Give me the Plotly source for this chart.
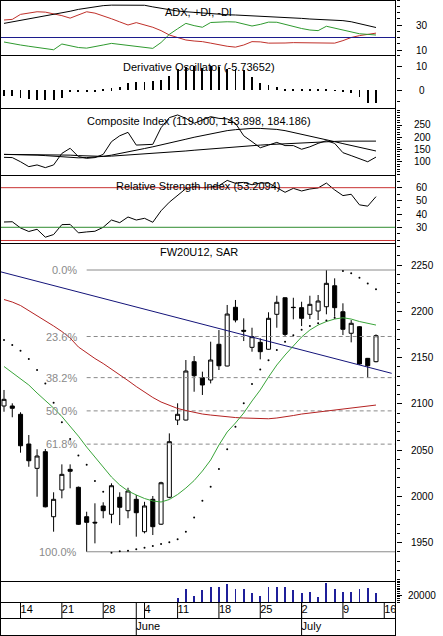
import numpy as np
import pandas as pd
import plotly.graph_objects as go

# ---------------- calendar ----------------
HOLIDAYS = ["2012-06-07"]
calendar = [d.strftime("%Y-%m-%d") for d in pd.bdate_range("2012-05-10", "2012-07-20")
            if d.strftime("%Y-%m-%d") not in HOLIDAYS]
dates = [d for d in calendar if d <= "2012-07-13"]
pos = {d: i for i, d in enumerate(calendar)}
n = len(dates)
xs = list(range(n))

# ---------------- price data (FW20U12) ----------------
opens = [2097.6, 2097.6, 2088.6, 2056.5, 2030.2, 2048.2, 1977.9, 2006.8, 2029.1, 2009.7,
         1977.9, 1971.9, 1989.5, 1980.5, 1998.9, 1984.4, 1996.7, 1961.7, 1996.7, 1969.8,
         1998.9, 2082.4, 2082.4, 2145.5, 2128.2, 2125.7, 2164.3, 2140.8, 2204.3, 2179.4,
         2161.0, 2166.4, 2158.9, 2196.7, 2214.6, 2204.3, 2203.9, 2196.7, 2200.3, 2204.9,
         2227.6, 2199.5, 2176.2, 2183.3, 2149.1, 2145.5]
highs = [2114.9, 2100.5, 2090.8, 2066.2, 2050.8, 2051.1, 2004.3, 2034.5, 2034.5, 2010.5,
         1983.3, 1992.4, 1993.5, 2014.0, 2004.3, 2009.2, 2001.4, 1994.0, 2000.3, 2015.7,
         2068.0, 2100.5, 2147.3, 2151.6, 2134.7, 2167.1, 2179.7, 2206.8, 2212.2, 2192.4,
         2182.2, 2170.8, 2198.9, 2216.8, 2215.0, 2214.6, 2210.3, 2216.8, 2217.6, 2244.6,
         2235.6, 2208.6, 2190.5, 2184.0, 2149.5, 2175.0]
lows = [2091.4, 2085.4, 2047.1, 2031.9, 1999.5, 1988.0, 1961.7, 1997.8, 2008.6, 1969.0,
        1940.0, 1949.1, 1976.2, 1970.8, 1968.9, 1976.2, 1956.3, 1959.9, 1958.1, 1969.0,
        1997.8, 2077.0, 2082.0, 2113.0, 2109.5, 2122.0, 2136.5, 2140.5, 2188.0, 2167.8,
        2156.3, 2148.0, 2158.5, 2182.2, 2172.5, 2191.3, 2184.0, 2191.6, 2190.5, 2196.7,
        2194.1, 2174.3, 2166.4, 2142.0, 2128.2, 2144.8]
closes = [2104.8, 2095.1, 2054.6, 2038.4, 2043.5, 1988.6, 1996.7, 2023.7, 2027.0, 1969.7,
          1971.8, 1971.2, 1984.4, 2011.4, 1988.1, 2005.7, 1982.2, 1989.5, 1967.1, 2014.6,
          2059.0, 2088.6, 2135.4, 2130.3, 2120.3, 2147.3, 2141.1, 2197.0, 2190.5, 2178.5,
          2172.5, 2156.3, 2192.4, 2209.7, 2175.0, 2204.0, 2192.4, 2207.5, 2211.1, 2230.2,
          2203.9, 2180.5, 2187.0, 2143.0, 2141.1, 2173.6]
sar = [2168.9, 2163.5, 2157.4, 2148.4, 2136.5, 2122.0, 2101.0, 2080.0, 2062.0, 2044.0,
       2034.0, 2016.5, 2005.0, 1939.0, 1940.5, 1941.1, 1942.6, 1944.4, 1946.2, 1948.4,
       1950.2, 1953.5, 1961.7, 1977.0, 1995.2, 2010.3, 2029.5, 2050.8, 2075.2, 2100.5,
       2121.4, 2137.0, 2147.0, 2158.0, 2167.0, 2174.0, 2180.0, 2184.0, 2187.0, 2190.0,
       2193.0, 2243.5, 2241.0, 2236.3, 2230.0, 2223.7]
ma_short = [2140.3, 2133.8, 2126.8, 2120.3, 2111.6, 2104.0, 2095.4, 2086.2, 2075.9, 2065.0,
            2053.2, 2042.4, 2031.6, 2020.8, 2012.2, 2005.7, 2001.4, 1997.6, 1994.9, 1993.8,
            1996.5, 2001.9, 2008.9, 2017.0, 2027.3, 2039.2, 2055.4, 2069.5, 2079.2, 2090.0,
            2103.0, 2114.9, 2128.9, 2141.9, 2152.7, 2162.4, 2172.2, 2179.7, 2185.1, 2188.9,
            2191.6, 2193.0, 2191.6, 2188.9, 2186.8, 2185.1]
ma_long = [2212.7, 2210.0, 2206.2, 2200.8, 2195.4, 2190.0, 2184.1, 2178.1, 2171.1, 2161.4,
           2154.9, 2148.9, 2143.5, 2137.6, 2131.1, 2125.1, 2118.6, 2112.7, 2106.8, 2101.9,
           2098.1, 2094.9, 2092.7, 2090.5, 2088.9, 2087.8, 2086.8, 2085.7, 2085.1, 2084.6,
           2084.1, 2083.8, 2083.8, 2084.6, 2085.7, 2087.3, 2088.9, 2090.0, 2091.1, 2092.2,
           2093.2, 2094.3, 2095.4, 2096.5, 2097.6, 2098.6]
# trendline anchors (value at first and last session)
trend_dates = ["2012-05-10", "2012-07-13"]
trend_values = [2241.7, 2137.3]
fib_levels = [0.0, 23.6, 38.2, 50.0, 61.8, 100.0]

volume = [None] * 21 + [10600, 36300, 18000, 34300, 42000, 42000, 51400, 36300, 36300, 26600,
                        18000, 42000, 42000, 42000, 34300, 26600, 29400, 13400, 53400, 36300,
                        29400, 29400, 36300, 39100, 26600]

# ---------------- indicators ----------------
adx = [31.3, 32.5, 33.8, 35.0, 36.0, 37.2, 38.2, 39.6, 41.0, 42.5, 43.7, 44.8, 45.5, 45.9, 46.0,
       46.0, 46.0, 45.8, 44.5, 43.2, 42.0, 41.2, 40.6, 40.0, 39.5, 39.0, 38.5, 38.2, 38.0, 37.7,
       37.5, 37.3, 37.1, 36.7, 36.2, 35.7, 35.3, 34.8, 34.5, 34.2, 33.9, 33.5, 32.6, 31.0, 29.5, 28.0]
plus_di = [16.4, 15.0, 14.0, 13.0, 12.0, 11.0, 10.2, 14.8, 13.5, 12.0, 11.5, 12.5, 14.0, 15.3, 14.5,
           14.0, 13.5, 12.5, 11.3, 16.0, 22.5, 27.0, 31.3, 29.5, 28.2, 32.0, 32.6, 32.6, 32.4, 31.0,
           29.2, 30.5, 32.3, 32.2, 30.5, 28.5, 27.2, 26.0, 25.5, 29.0, 27.5, 25.8, 24.2, 23.0, 22.5, 22.0]
minus_di = [34.0, 34.5, 38.5, 39.8, 40.6, 40.3, 39.2, 37.5, 35.5, 38.0, 40.6, 39.5, 37.5, 35.0, 32.5,
            30.0, 31.9, 30.3, 28.2, 25.5, 22.0, 20.0, 18.0, 17.2, 16.7, 15.5, 14.2, 13.0, 12.3, 14.0,
            16.7, 16.5, 15.5, 15.3, 15.6, 15.9, 15.8, 15.5, 15.3, 15.3, 15.5, 17.5, 20.0, 21.5, 22.8, 23.5]
adx_ref = 20

deriv_osc = [-2.4, -2.4, -3.5, -4.0, -4.3, -4.3, -4.3, -3.5, -1.0, -1.0, -0.8, -0.8, 0.3, 0.8, 1.5,
             3.0, 3.5, 3.5, 4.0, 4.3, 6.0, 9.0, 10.0, 10.5, 9.5, 10.5, 10.0, 9.0, 9.0, 8.5,
             5.5, 3.0, 2.0, 1.2, 0.6, 0.2, 0.5, 0.5, 0.5, 0.1, -0.2, -1.0, -1.2, -3.0, -5.5, -5.73652]

composite = [118, 117, 100, 80, 87, 76, 87, 134, 155, 121, 114, 117, 130, 182, 206, 220, 168, 168,
             171, 239, 280, 291, 277, 257, 271, 284, 277, 275, 257, 206, 182, 157, 168, 179, 166, 166,
             151, 161, 175, 186, 175, 137, 125, 114, 100, 119.000]
composite_ma1 = [130, 130, 129, 128, 127, 125, 122, 119, 117, 116, 117, 119, 122, 127, 133, 140, 147,
                 154, 161, 168, 176, 184, 192, 200, 207, 214, 221, 227, 231, 234, 236, 236, 235, 232,
                 227, 220, 212, 204, 196, 189, 182, 174, 166, 158, 151, 143.898]
composite_ma2 = [130, 130, 130, 129, 129, 128, 128, 128, 127, 125, 123, 122, 122, 123, 125, 127, 129,
                 131, 133, 136, 139, 141, 144, 147, 150, 153, 156, 159, 162, 164, 166, 168, 170, 172,
                 174, 176, 178, 179, 181, 182, 183, 184, 184.5, 184.5, 184.3, 184.186]

rsi = [34.0, 34.2, 29.5, 26.8, 28.5, 22.5, 24.5, 32.0, 32.2, 25.8, 26.5, 27.0, 30.0, 35.5, 33.5,
       37.8, 35.5, 36.8, 33.8, 42.5, 49.0, 54.5, 59.3, 60.8, 60.0, 60.5, 61.5, 65.5, 63.3, 64.0,
       62.2, 63.5, 63.5, 60.0, 56.5, 59.5, 57.5, 59.0, 59.8, 63.5, 58.3, 54.0, 55.0, 47.0, 46.0, 53.2094]
rsi_levels = [60, 30, 20]

# axis tick labels
adx_ticks = [10, 30]
do_ticks = [0, 10]
ci_ticks = [100, 150, 200, 250]
rsi_ticks = [30, 40, 50, 60]
price_ticks = [1950, 2000, 2050, 2100, 2150, 2200, 2250]
vol_ticks = [20000]

week_dates = ["2012-05-14", "2012-05-21", "2012-05-28", "2012-06-04", "2012-06-11",
              "2012-06-18", "2012-06-25", "2012-07-02", "2012-07-09", "2012-07-16"]
month_dates = ["2012-06-01", "2012-07-02"]
month_names = ["June", "July"]

# ---------------- layout helpers ----------------
W, H = 443, 636
PR = 396                      # right edge of plotting area (px)
FONT = "Liberation Sans, Arial, sans-serif"
X_RANGE = [-0.484, n - 1 + 2.42]


def py(p):
    return 1 - p / H


panels = {  # name: (top px, bottom px, range)
    "y": (0, 55, [6, 50]),
    "y2": (55, 108, [-7.7, 15]),
    "y3": (108, 175, [45.9, 319.4]),
    "y4": (175, 243, [18.1, 69.6]),
    "y5": (243, 581, [1908.4, 2273.8]),
    "y6": (581, 602, [0, 60000]),
    "y7": (602, 635, [0, 1]),
}
tickinfo = {
    "y": (adx_ticks, 5, 0),
    "y2": (do_ticks, 5, 0),
    "y3": (ci_ticks, 10, 0),
    "y4": (rsi_ticks, 5, 0),
    "y5": (price_ticks, 10, 0),
    "y6": (vol_ticks, 5000, 0),
}

fig = go.Figure()

# ADX panel
fig.add_trace(go.Scatter(x=xs, y=minus_di, mode="lines", line=dict(color="#c0302a", width=1), yaxis="y"))
fig.add_trace(go.Scatter(x=xs, y=plus_di, mode="lines", line=dict(color="#2f9a2f", width=1), yaxis="y"))
fig.add_trace(go.Scatter(x=xs, y=adx, mode="lines", line=dict(color="black", width=1), yaxis="y"))

# Derivative oscillator
fig.add_trace(go.Bar(x=xs, y=deriv_osc, width=0.1, marker=dict(color="black", line=dict(width=0)), yaxis="y2"))

# Composite index
fig.add_trace(go.Scatter(x=xs, y=composite_ma2, mode="lines", line=dict(color="black", width=1), yaxis="y3"))
fig.add_trace(go.Scatter(x=xs, y=composite_ma1, mode="lines", line=dict(color="black", width=1), yaxis="y3"))
fig.add_trace(go.Scatter(x=xs, y=composite, mode="lines", line=dict(color="black", width=1), yaxis="y3"))

# RSI
fig.add_trace(go.Scatter(x=xs, y=rsi, mode="lines", line=dict(color="black", width=1), yaxis="y4"))

# Price panel: fibonacci
hi, lo = max(highs), min(lows)
i_lo = int(np.argmin(lows))
for lvl in fib_levels:
    v = hi - (hi - lo) * lvl / 100.0
    solid = lvl in (0.0, 100.0)
    fig.add_trace(go.Scatter(x=[i_lo, X_RANGE[1]], y=[v, v], mode="lines",
                             line=dict(color="#8a8a8a", width=1, dash=None if solid else "4px,3px"),
                             yaxis="y5"))
    fig.add_annotation(x=i_lo, y=v, xref="x", yref="y5", text=f"{lvl:.1f}%", showarrow=False,
                       xanchor="right", yanchor="middle", xshift=-8,
                       font=dict(family=FONT, size=11, color="#8a8a8a"))

# trendline, extended to the left edge
t0, t1 = pos[trend_dates[0]], pos[trend_dates[1]]
slope = (trend_values[1] - trend_values[0]) / (t1 - t0)
tx = [X_RANGE[0], t1 + 1.9]
ty = [trend_values[0] + slope * (v - t0) for v in tx]
fig.add_trace(go.Scatter(x=tx, y=ty, mode="lines", line=dict(color="#14147a", width=1), yaxis="y5"))

fig.add_trace(go.Scatter(x=xs, y=ma_long, mode="lines", line=dict(color="#b42222", width=1), yaxis="y5"))
fig.add_trace(go.Scatter(x=xs, y=ma_short, mode="lines", line=dict(color="#3aa53a", width=1), yaxis="y5"))
fig.add_trace(go.Candlestick(x=xs, open=opens, high=highs, low=lows, close=closes,
                             increasing=dict(line=dict(color="black", width=1), fillcolor="white"),
                             decreasing=dict(line=dict(color="black", width=1), fillcolor="black"),
                             whiskerwidth=0, yaxis="y5", hoverinfo="skip"))
fig.add_trace(go.Scatter(x=xs, y=sar, mode="markers", marker=dict(color="black", size=2), yaxis="y5"))

# Volume
fig.add_trace(go.Bar(x=xs, y=volume, width=0.1, marker=dict(color="#1f1f9a", line=dict(width=0)), yaxis="y6"))

# Date strip texts (clipped at the right edge like the original)
wx = [pos[d] for d in week_dates]
mx = [pos[d] for d in month_dates]
fig.add_trace(go.Scatter(x=wx + mx, y=[0.76] * len(wx) + [0.25] * len(mx),
                         text=[str(int(d[8:])) for d in week_dates] + month_names,
                         mode="text", textposition="middle right", cliponaxis=True,
                         textfont=dict(family=FONT, size=11, color="black"), yaxis="y7"))

shapes = []
for v in wx:
    shapes.append(dict(type="line", xref="x", yref="y7", x0=v, x1=v, y0=0.5, y1=1,
                       line=dict(color="black", width=1)))
for v in mx:
    shapes.append(dict(type="line", xref="x", yref="y7", x0=v, x1=v, y0=0, y1=1,
                       line=dict(color="black", width=1)))
# reference lines
shapes.append(dict(type="line", xref="paper", yref="y", x0=0, x1=1, y0=adx_ref, y1=adx_ref,
                   line=dict(color="#1c1c8c", width=1)))
for lv, col in zip(rsi_levels, ["#c83232", "#2e8b2e", "#c83232"]):
    shapes.append(dict(type="line", xref="paper", yref="y4", x0=0, x1=1, y0=lv, y1=lv,
                       line=dict(color=col, width=1)))
# panel frames
for p in [0, 55, 108, 175, 243, 581, 602, 618, 635]:
    yy = py(p + 0.5)
    shapes.append(dict(type="line", xref="paper", yref="paper", x0=0, x1=1, y0=yy, y1=yy,
                       line=dict(color="black", width=1)))
for xp in [0.5 / PR, 1 - 0.5 / PR]:
    shapes.append(dict(type="line", xref="paper", yref="paper", x0=xp, x1=xp, y0=py(635.5), y1=py(0),
                       line=dict(color="black", width=1)))

# panel titles
titles = [
    ("ADX, +DI, -DI", 12.5),
    (f"Derivative Oscillator ({deriv_osc[-1]:.5f})", 67),
    (f"Composite Index ({composite[-1]:.3f}, {composite_ma1[-1]:.3f}, {composite_ma2[-1]:.3f})", 120.5),
    (f"Relative Strength Index ({rsi[-1]:.4f})", 186),
    ("FW20U12, SAR", 252),
]
for txt, p in titles:
    fig.add_annotation(x=199 / PR, y=py(p), xref="paper", yref="paper", text=txt, showarrow=False,
                       xanchor="center", yanchor="middle", font=dict(family=FONT, size=11, color="black"))

# right-hand tick labels, centred like the original
for ax, (vals, _, ysh) in tickinfo.items():
    for v in vals:
        fig.add_annotation(x=422.5 / PR, y=v, xref="paper", yref=ax, text=str(v), showarrow=False,
                           xanchor="center", yanchor="middle", yshift=ysh,
                           font=dict(family=FONT, size=10, color="black"))

layout = dict(
    width=W, height=H, margin=dict(l=0, r=W - PR, t=0, b=0),
    paper_bgcolor="white", plot_bgcolor="white", showlegend=False,
    xaxis=dict(domain=[0, 1], range=X_RANGE, visible=False, rangeslider=dict(visible=False),
               anchor="y7"),
    shapes=shapes, hovermode=False, bargap=0,
)
for ax, (top, bot, rng) in panels.items():
    key = "yaxis" if ax == "y" else "yaxis" + ax[1:]
    d = dict(domain=[py(bot), py(top)], range=rng, anchor="x", side="right",
             showgrid=False, zeroline=False, showticklabels=False, showline=False)
    if ax in tickinfo:
        vals, mdt, _ = tickinfo[ax]
        d.update(tickmode="array", tickvals=vals, ticks="outside", ticklen=5, tickcolor="black",
                 tickwidth=1,
                 minor=dict(ticks="outside", ticklen=3, tickcolor="black", tickwidth=1,
                            dtick=mdt, tick0=0, showgrid=False))
    else:
        d.update(visible=False)
    layout[key] = d

fig.update_layout(**layout)
fig.write_html("out.html", config={"displayModeBar": False},
               post_script="document.body.style.margin='0';document.body.style.padding='0';"
                           "document.body.style.overflow='hidden';")
